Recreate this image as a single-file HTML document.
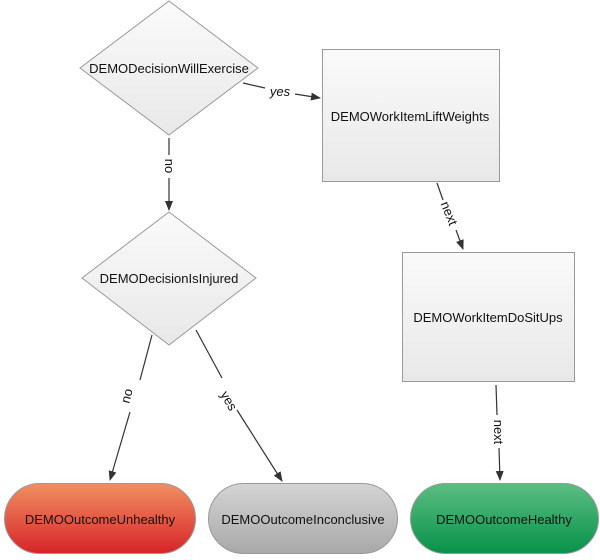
<!DOCTYPE html>
<html><head><style>
html,body{margin:0;padding:0;background:#fff;}
svg{display:block;}
text{font-family:"Liberation Sans",Arial,sans-serif;font-size:13px;fill:#111;}
</style></head><body>
<svg width="600" height="560" viewBox="0 0 600 560" xmlns="http://www.w3.org/2000/svg">
<defs>
<linearGradient id="g" x1="0" y1="0" x2="0" y2="1"><stop offset="0" stop-color="#fafafa"/><stop offset="1" stop-color="#e8e8e8"/></linearGradient>
<linearGradient id="red" x1="0" y1="0" x2="0" y2="1"><stop offset="0" stop-color="#f09060"/><stop offset="1" stop-color="#d8242a"/></linearGradient>
<linearGradient id="gray" x1="0" y1="0" x2="0" y2="1"><stop offset="0" stop-color="#d4d4d4"/><stop offset="1" stop-color="#a8a8a8"/></linearGradient>
<linearGradient id="green" x1="0" y1="0" x2="0" y2="1"><stop offset="0" stop-color="#5cbd82"/><stop offset="1" stop-color="#07924a"/></linearGradient>
<marker id="a" markerWidth="10" markerHeight="10" refX="9" refY="5" orient="auto" markerUnits="userSpaceOnUse"><path d="M0,1 L10,5 L0,9 Z" fill="#333"/></marker>
</defs>
<polygon points="169,1 258,68 169,135 80,68" fill="url(#g)" stroke="#999"/>
<rect x="322.5" y="49.5" width="177" height="132" fill="url(#g)" stroke="#999"/>
<polygon points="169,212 256,278 169,345 82,278" fill="url(#g)" stroke="#999"/>
<rect x="402.5" y="252.5" width="172" height="129" fill="url(#g)" stroke="#999"/>
<rect x="4.5" y="483.5" width="191" height="70" rx="35" fill="url(#red)" stroke="#999"/>
<rect x="208.5" y="483.5" width="189" height="70" rx="35" fill="url(#gray)" stroke="#999"/>
<rect x="410.5" y="483.5" width="188" height="70" rx="35" fill="url(#green)" stroke="#999"/>
<g stroke="#333" stroke-width="1.2" fill="none">
<line x1="243" y1="83" x2="265" y2="88"/><line x1="295" y1="94" x2="320" y2="98" marker-end="url(#a)"/>
<line x1="169" y1="138" x2="169" y2="155"/><line x1="169" y1="178" x2="169" y2="210" marker-end="url(#a)"/>
<line x1="437" y1="183" x2="443" y2="200"/><line x1="456" y1="230" x2="463" y2="249" marker-end="url(#a)"/>
<line x1="152" y1="335" x2="140" y2="380"/><line x1="130" y1="412" x2="110" y2="480" marker-end="url(#a)"/>
<line x1="196" y1="330" x2="222" y2="378"/><line x1="237" y1="410" x2="282" y2="481" marker-end="url(#a)"/>
<line x1="496" y1="385" x2="497" y2="415"/><line x1="499" y1="448" x2="500" y2="480" marker-end="url(#a)"/>
</g>
<text x="169" y="73" text-anchor="middle">DEMODecisionWillExercise</text>
<text x="410" y="121" text-anchor="middle">DEMOWorkItemLiftWeights</text>
<text x="169" y="283" text-anchor="middle">DEMODecisionIsInjured</text>
<text x="488" y="322" text-anchor="middle">DEMOWorkItemDoSitUps</text>
<text x="100" y="524" text-anchor="middle">DEMOOutcomeUnhealthy</text>
<text x="303" y="524" text-anchor="middle">DEMOOutcomeInconclusive</text>
<text x="504" y="524" text-anchor="middle">DEMOOutcomeHealthy</text>
<text x="280" y="96" text-anchor="middle" font-style="italic">yes</text>
<text transform="translate(165,166) rotate(90)" text-anchor="middle">no</text>
<text transform="translate(445,215) rotate(68)" text-anchor="middle">next</text>
<text transform="translate(131,397) rotate(-75)" text-anchor="middle">no</text>
<text transform="translate(225,403) rotate(60)" text-anchor="middle">yes</text>
<text transform="translate(494,432) rotate(90)" text-anchor="middle">next</text>
</svg>
</body></html>
